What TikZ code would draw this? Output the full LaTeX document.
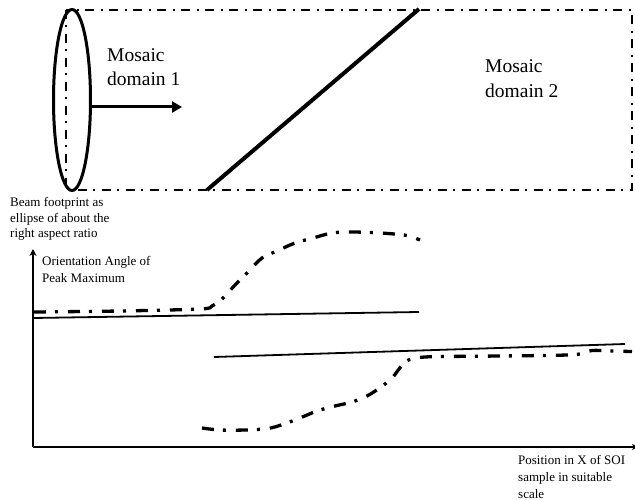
\documentclass[tikz,border=0pt]{standalone}
\usepackage{fontspec}
\setmainfont{Liberation Serif}
\usetikzlibrary{arrows.meta}
\begin{document}
\begin{tikzpicture}[x=1pt,y=-1pt,
  rectdash/.style={line width=2pt, dash pattern=on 9pt off 6pt on 2pt off 7pt},
  curvedash/.style={line width=3.3pt, dash pattern=on 12pt off 9pt on 3pt off 10pt},
  thinline/.style={line width=1.8pt},
  bigtext/.style={anchor=base west, inner sep=0pt, align=left, font=\fontsize{19.5}{23.5}\selectfont},
  smalltext/.style={anchor=base west, inner sep=0pt, align=left, font=\fontsize{13}{16.3}\selectfont}]
\useasboundingbox (0,0) rectangle (635,500);
% domains
\draw[rectdash] (66,10) rectangle (632,190);
\draw[line width=3pt] (72,100) ellipse [x radius=18.5pt, y radius=90.5pt];
\coordinate (er) at (90.5,107);
\coordinate (ae) at (182,107);
\draw[line width=3pt, -{Triangle[length=10pt,width=11pt]}] (er) -- (ae);
\coordinate (d1) at (207,190);
\coordinate (d2) at (419,9);
\draw[line width=4pt] (d1) -- (d2);
% multi-line nodes: base anchor = baseline of the last line
\node[bigtext] (m1) at (107,85.5) {Mosaic\\domain 1};
\node[bigtext, font=\fontsize{19.5}{24.6}\selectfont] (m2) at (485,97.3) {Mosaic\\domain 2};
\node[smalltext, font=\fontsize{13}{15.5}\selectfont] (beam) at (10,237.7) {Beam footprint as\\ellipse of about the\\right aspect ratio};
% axes
\coordinate (o) at (33,447);
\coordinate (yt) at (33,249);
\coordinate (xt) at (638,447);
\draw[line width=2pt, -{Stealth[length=7pt,width=7pt]}] (o) -- (yt);
\draw[line width=2pt, -{Stealth[length=6pt,width=6pt]}] (o) -- (xt);
\node[smalltext, font=\fontsize{13}{16.6}\selectfont] (ylab) at (42,282.1) {Orientation Angle of\\Peak Maximum};
\node[smalltext, font=\fontsize{13}{17}\selectfont] (xlab) at (518,498) {Position in X of SOI\\sample in suitable\\scale};
% solid lines
\draw[thinline] (33,318) -- (419,312);
\draw[thinline] (214,357) -- (625,344);
% dash-dot curves
\draw[curvedash] plot[smooth, tension=0.55] coordinates {(34,312) (120,311) (200,309) (212,306) (222,299) (236,284) (248,272) (262,258) (277,251) (295,243) (313,238) (332,233) (350,232) (370,232.5) (388,233.5) (407,235.5) (420,240)};
\draw[curvedash] plot[smooth, tension=0.55] coordinates {(202,428) (220,430) (245,430) (268,428.5) (284,424) (300,418) (317,411) (335,406) (352,402) (367,396) (381,387) (392,378) (399,369) (405,362) (413,358.5) (425,357) (445,356.5) (500,356) (560,355.2) (580,354) (592,350.5) (610,351) (632,351.5)};
\end{tikzpicture}
\end{document}
